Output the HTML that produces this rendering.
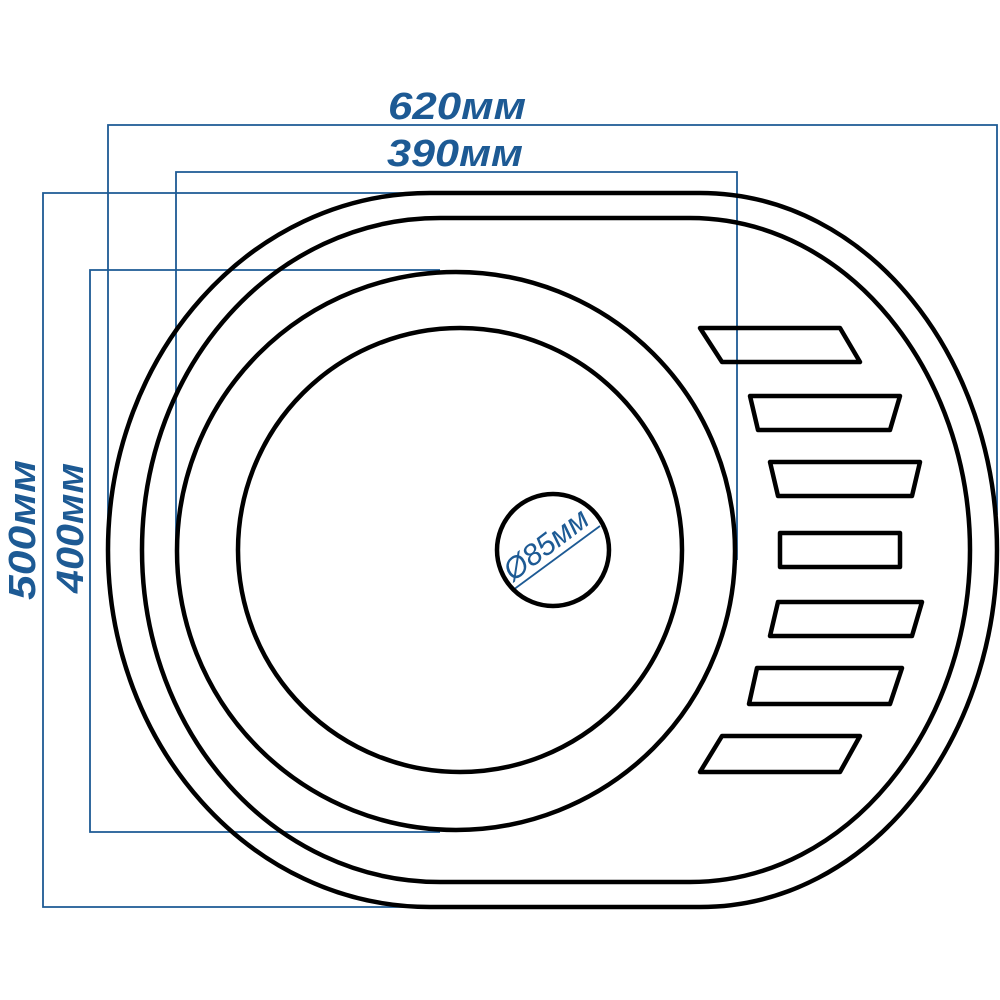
<!DOCTYPE html>
<html><head><meta charset="utf-8"><style>
html,body{margin:0;padding:0;background:#fff;width:1000px;height:1000px;overflow:hidden}
</style></head><body>
<svg width="1000" height="1000" viewBox="0 0 1000 1000" xmlns="http://www.w3.org/2000/svg">
<g fill="none" stroke="#1d5a94" stroke-width="1.8">
<polyline points="108,560 108,125 997,125 997,515"/>
<polyline points="176,560 176,172 737,172 737,560"/>
<polyline points="430,193 43,193 43,907 430,907"/>
<polyline points="440,270 90,270 90,832 440,832"/>
<line x1="513" y1="590" x2="600" y2="526"/>
</g>
<g fill="none" stroke="#000" stroke-width="4.5" stroke-linejoin="round">
<path d="M430,193 L700,193 C870,193 997,360 997,550 C997,740 870,907 700,907 L430,907 C250,907 108,745 108,550 C108,355 250,193 430,193 Z"/>
<path d="M440,218 L690,218 C850,218 970,375 970,550 C970,725 850,882 690,882 L440,882 C275,882 142,735 142,550 C142,365 275,218 440,218 Z"/>
<circle cx="456" cy="551" r="279"/>
<circle cx="460" cy="550" r="222"/>
<circle cx="553" cy="550" r="56"/>
<path d="M700,328 L840,328 L860,362 L722,362 Z"/>
<path d="M750,396 L900,396 L890,430 L758,430 Z"/>
<path d="M770,462 L920,462 L912,496 L778,496 Z"/>
<path d="M780,533 L900,533 L900,567 L780,567 Z"/>
<path d="M778,602 L922,602 L912,636 L770,636 Z"/>
<path d="M757,668 L902,668 L890,704 L749,704 Z"/>
<path d="M722,736 L860,736 L840,772 L700,772 Z"/>
</g>
<g fill="#1d5a94" font-family="Liberation Sans, sans-serif" font-style="italic" font-weight="bold">
<text x="457" y="119" font-size="38" text-anchor="middle" textLength="138" lengthAdjust="spacingAndGlyphs">620мм</text>
<text x="455" y="166" font-size="38" text-anchor="middle" textLength="136" lengthAdjust="spacingAndGlyphs">390мм</text>
<text transform="translate(35,530) rotate(-90)" font-size="38" text-anchor="middle" textLength="140" lengthAdjust="spacingAndGlyphs">500мм</text>
<text transform="translate(83,528) rotate(-90)" font-size="38" text-anchor="middle" textLength="130" lengthAdjust="spacingAndGlyphs">400мм</text>
<text transform="translate(513,582) rotate(-37)" font-size="30" font-weight="normal" textLength="98" lengthAdjust="spacingAndGlyphs">Ø85мм</text>
</g>
</svg>
</body></html>
